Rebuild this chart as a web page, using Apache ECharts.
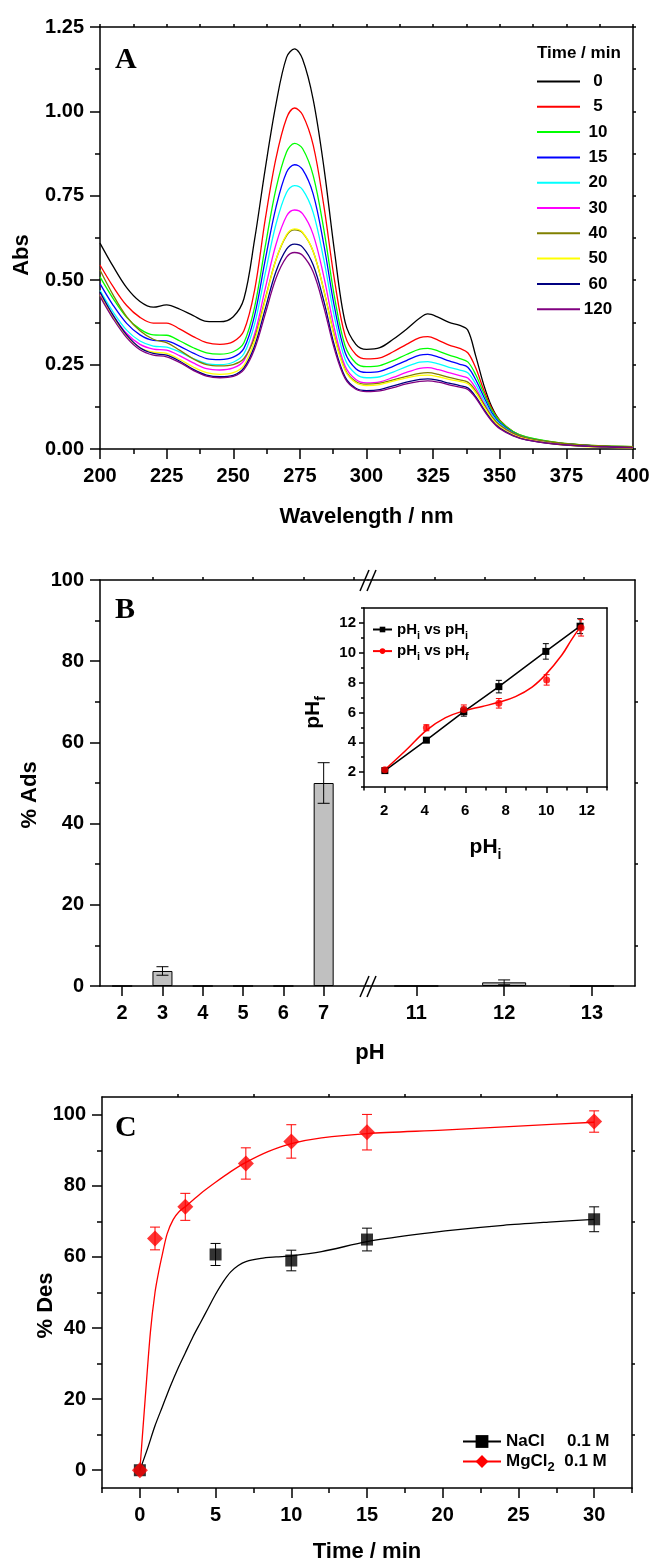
<!DOCTYPE html>
<html><head><meta charset="utf-8">
<script src="https://cdn.jsdelivr.net/npm/echarts@6/dist/echarts.min.js"></script>
<style>html,body{margin:0;padding:0;background:#fff}#c{width:649px;height:1561px}</style>
</head><body><div id="c"></div><script>
// ---------- Panel A : UV-Vis spectra ----------
const wavelength = [200,205,210,215,220,225,230,235,240,245,250,254,258,262,266,270,273,276,280,284,288,292,296,300,305,310,315,320,323,327,331,335,338,341,344,347,350,355,360,370,380,390,400];
const timeNames = ['0','5','10','15','20','30','40','50','60','120'];
const timeColors = ['#000000','#ff0000','#00ff00','#0000ff','#00ffff','#ff00ff','#808000','#ffff00','#000080','#800080'];
const abs0   = [0.610,0.540,0.478,0.437,0.420,0.427,0.414,0.395,0.378,0.377,0.392,0.445,0.620,0.830,1.020,1.160,1.185,1.155,1.035,0.835,0.585,0.375,0.310,0.295,0.300,0.325,0.355,0.388,0.400,0.390,0.375,0.366,0.352,0.275,0.190,0.125,0.085,0.050,0.033,0.018,0.011,0.007,0.005];
const abs5   = [0.545,0.480,0.425,0.390,0.373,0.373,0.355,0.333,0.315,0.310,0.318,0.350,0.470,0.680,0.860,0.980,1.010,0.990,0.900,0.720,0.500,0.335,0.280,0.267,0.270,0.288,0.310,0.330,0.333,0.322,0.308,0.298,0.285,0.240,0.175,0.120,0.085,0.052,0.035,0.020,0.012,0.008,0.006];
const abs10  = [0.510,0.445,0.390,0.355,0.338,0.337,0.320,0.300,0.285,0.281,0.288,0.315,0.420,0.600,0.770,0.880,0.905,0.890,0.810,0.650,0.450,0.305,0.255,0.244,0.247,0.262,0.280,0.296,0.298,0.290,0.278,0.268,0.258,0.220,0.165,0.115,0.083,0.052,0.036,0.021,0.013,0.009,0.007];
const abs15  = [0.490,0.425,0.372,0.338,0.322,0.320,0.304,0.284,0.268,0.265,0.272,0.298,0.395,0.560,0.715,0.820,0.842,0.828,0.755,0.605,0.420,0.285,0.238,0.227,0.230,0.245,0.262,0.278,0.280,0.272,0.261,0.251,0.242,0.205,0.155,0.108,0.078,0.049,0.033,0.019,0.012,0.008,0.006];
const abs20  = [0.470,0.405,0.352,0.320,0.305,0.302,0.287,0.268,0.253,0.250,0.257,0.282,0.370,0.520,0.665,0.760,0.780,0.768,0.700,0.560,0.390,0.265,0.222,0.211,0.214,0.228,0.244,0.257,0.259,0.252,0.242,0.234,0.226,0.192,0.145,0.102,0.074,0.047,0.032,0.018,0.011,0.007,0.005];
const abs30  = [0.460,0.395,0.342,0.310,0.296,0.293,0.276,0.255,0.238,0.234,0.240,0.262,0.340,0.475,0.605,0.690,0.708,0.697,0.635,0.510,0.355,0.245,0.206,0.196,0.199,0.212,0.227,0.239,0.241,0.235,0.226,0.217,0.210,0.180,0.137,0.097,0.070,0.045,0.031,0.017,0.010,0.007,0.005];
const abs40  = [0.530,0.455,0.392,0.350,0.325,0.315,0.292,0.267,0.250,0.246,0.250,0.268,0.330,0.445,0.560,0.632,0.649,0.640,0.585,0.470,0.335,0.235,0.200,0.192,0.195,0.205,0.215,0.224,0.226,0.221,0.212,0.205,0.198,0.172,0.133,0.096,0.071,0.047,0.033,0.020,0.013,0.009,0.007];
const abs50  = [0.455,0.390,0.335,0.300,0.287,0.283,0.265,0.243,0.226,0.221,0.226,0.248,0.320,0.440,0.560,0.635,0.652,0.642,0.585,0.470,0.330,0.232,0.196,0.188,0.191,0.201,0.211,0.218,0.219,0.214,0.206,0.200,0.193,0.166,0.127,0.091,0.066,0.042,0.029,0.015,0.008,0.005,0.003];
const abs60  = [0.465,0.395,0.338,0.300,0.283,0.278,0.260,0.236,0.219,0.214,0.218,0.240,0.305,0.415,0.525,0.592,0.607,0.598,0.545,0.438,0.305,0.213,0.180,0.173,0.176,0.187,0.198,0.206,0.208,0.203,0.195,0.188,0.181,0.155,0.118,0.085,0.062,0.040,0.027,0.015,0.009,0.006,0.004];
const abs120 = [0.452,0.385,0.330,0.294,0.278,0.273,0.256,0.233,0.216,0.211,0.215,0.235,0.296,0.400,0.505,0.568,0.582,0.574,0.524,0.420,0.295,0.208,0.177,0.170,0.172,0.182,0.193,0.200,0.202,0.198,0.190,0.183,0.176,0.151,0.115,0.083,0.060,0.039,0.027,0.015,0.009,0.006,0.004];
const absSets = [abs0,abs5,abs10,abs15,abs20,abs30,abs40,abs50,abs60,abs120];

// ---------- Panel B : adsorption vs pH ----------
const phLow = [2,3,4,5,6,7];
const adsLow = [0,3.7,0,0,0,50];
const adsLowErr = [0,1.05,0,0,0,5];
const phHigh = [11,12,13];
const adsHigh = [0,0.9,0];
const adsHighErr = [0,0.6,0];
// inset
const pHiSquare = [2.03,4.08,5.93,7.66,9.98,11.67];
const pHiSquareY = [2.10,4.14,6.05,7.73,10.09,11.78];
const pHiSquareErr = [0.10,0.12,0.30,0.42,0.52,0.50];
const pHiCircle = [2.03,4.08,5.93,7.66,10.02,11.72];
const pHfCircleY = [2.16,4.97,6.20,6.61,8.18,11.67];
const pHfCircleErr = [0.12,0.20,0.30,0.32,0.35,0.55];
const pHfFitX = [2.03,3.07,4.08,5.03,5.93,6.84,7.66,8.48,9.30,9.98,10.77,11.26,11.67];
const pHfFitY = [2.16,3.46,4.80,5.65,6.10,6.40,6.68,7.06,7.70,8.55,9.85,10.90,11.70];

// ---------- Panel C : desorption kinetics ----------
const tNaCl = [0,5,10,15,30];
const desNaCl = [0,60.7,59.0,64.9,70.6];
const desNaClErr = [0,3.1,2.9,3.2,3.5];
const tMgCl2 = [0,1,3,7,10,15,30];
const desMgCl2 = [0,65.2,74.1,86.3,92.5,95.1,98.1];
const desMgCl2Err = [0,3.2,3.8,4.4,4.7,5.0,3.0];
const fitNaClT = [0,0.5,1,1.5,2,2.5,3,3.5,4,4.5,5,5.5,6,6.5,7,8,9,10,12,15,18,21,24,27,30];
const fitNaClY = [0,6,12.5,18,23.5,28.5,33,37.5,41.5,45.5,49.5,53,55.8,57.6,58.7,59.6,60,60.3,61.5,64.3,66.2,67.7,68.9,69.8,70.6];
const fitMgT = [0,0.35,0.7,1.0,1.25,1.5,1.8,2.2,2.6,3.1,4,5,6,7,8.5,10,12,15,20,25,30];
const fitMgY = [0,20,39,50,56,61,66.5,70.5,72.8,74.5,77.8,81,84,86.6,89.7,91.9,93.5,94.7,95.7,96.8,97.9];

// ---------- helpers ----------
const FONT = "'Liberation Sans',Arial,sans-serif";
const SERIF = "'Liberation Serif','Times New Roman',serif";
const AX = {color:'#000', width:1.5};
const TICKFS = 20, TITLEFS = 22;
function lbl(size, extra){ return Object.assign({color:'#000', fontFamily:FONT, fontWeight:'bold', fontSize:size}, extra||{}); }
function zip(a,b){ return a.map((v,i)=>[v,b[i]]); }
function zip3(a,b,c){ return a.map((v,i)=>[v,b[i],c[i]]); }
function range(a,b,s){ const r=[]; for(let v=a; v<=b+1e-9; v+=s) r.push(+v.toFixed(4)); return r; }
function subRich(big, small){
  return {
    a:{fontFamily:FONT,fontWeight:'bold',fontSize:big,color:'#000',lineHeight:big+8,verticalAlign:'middle'},
    s:{fontFamily:FONT,fontWeight:'bold',fontSize:small,color:'#000',lineHeight:small,verticalAlign:'bottom'}
  };
}
function errBars(name, xi, yi, data, color, cap, lw){
  return {type:'custom', name:name, xAxisIndex:xi, yAxisIndex:yi, data:data, encode:{x:0,y:1}, z:3, silent:true,
    renderItem:function(params, api){
      const x=api.value(0), y=api.value(1), e=api.value(2);
      if(!e) return {type:'group', children:[]};
      const p1=api.coord([x,y+e]), p2=api.coord([x,y-e]), h=cap/2;
      const st={stroke:color, lineWidth:lw};
      return {type:'group', children:[
        {type:'line', shape:{x1:p1[0],y1:p1[1],x2:p2[0],y2:p2[1]}, style:st},
        {type:'line', shape:{x1:p1[0]-h,y1:p1[1],x2:p1[0]+h,y2:p1[1]}, style:st},
        {type:'line', shape:{x1:p2[0]-h,y1:p2[1],x2:p2[0]+h,y2:p2[1]}, style:st}]};
    }};
}
function plainAxis(o){
  return Object.assign({type:'value', axisLine:{show:true,onZero:false,lineStyle:AX}, splitLine:{show:false},
    axisLabel:{show:false}, axisTick:{show:false}, nameMoveOverlap:false}, o);
}

const chart = echarts.init(document.getElementById('c'), null, {renderer:'canvas', width:649, height:1561});

const grids = [
  {left:100, top:27, width:533, height:422},     // A
  {left:100, top:580, width:268, height:406},    // B left segment
  {left:368, top:580, width:267, height:406},    // B right segment
  {left:364, top:608, width:243, height:179},    // B inset
  {left:102, top:1097, width:530, height:391}    // C
].map(g=>Object.assign({containLabel:false, outerBoundsMode:'none'}, g));

const xAxes = [
  // 0: A bottom
  plainAxis({gridIndex:0, min:200, max:400, interval:25, position:'bottom',
    axisTick:{show:true,length:10,lineStyle:AX}, minorTick:{show:true,splitNumber:2,length:5,lineStyle:AX},
    axisLabel:lbl(TICKFS,{show:true,margin:17}),
    name:'Wavelength / nm', nameLocation:'middle', nameGap:57, nameTextStyle:lbl(TITLEFS)}),
  // 1: A top
  plainAxis({gridIndex:0, min:200, max:400, interval:12.5, position:'top', axisTick:{show:true,length:3,lineStyle:AX}}),
  // 2: B left bottom
  plainAxis({gridIndex:1, min:1.45, max:8.1, position:'bottom',
    axisTick:{show:true,length:10,lineStyle:AX,customValues:phLow},
    axisLabel:lbl(TICKFS,{show:true,margin:17,customValues:phLow})}),
  // 3: B left top
  plainAxis({gridIndex:1, min:1.45, max:8.1, position:'top', axisTick:{show:true,length:3,lineStyle:AX,customValues:[2.75,4,5.25,6.5,7.75]}}),
  // 4: B right bottom
  plainAxis({gridIndex:2, min:10.45, max:13.49, position:'bottom',
    axisTick:{show:true,length:10,lineStyle:AX,customValues:phHigh},
    axisLabel:lbl(TICKFS,{show:true,margin:17,customValues:phHigh})}),
  // 5: B right top
  plainAxis({gridIndex:2, min:10.45, max:13.49, position:'top', axisTick:{show:true,length:3,lineStyle:AX,customValues:[11.21,11.78,12.35,12.91]}}),
  // 6: inset bottom
  plainAxis({gridIndex:3, min:1, max:13, position:'bottom',
    axisTick:{show:true,length:6,lineStyle:AX,customValues:range(2,12,2)},
    axisLabel:lbl(15,{show:true,margin:16,customValues:range(2,12,2)}),
    name:'{a|pH}{s|i}', nameLocation:'middle', nameGap:46, nameTextStyle:{rich:subRich(21,14)}}),
  // 7: inset bottom minor
  plainAxis({gridIndex:3, min:1, max:13, position:'bottom', axisLine:{show:false,onZero:false},
    axisTick:{show:true,length:3.5,lineStyle:AX,customValues:range(1,13,2)}}),
  // 8: inset top
  plainAxis({gridIndex:3, min:1, max:13, position:'top'}),
  // 9: C bottom
  plainAxis({gridIndex:4, min:-2.5, max:32.5, position:'bottom',
    axisTick:{show:true,length:10,lineStyle:AX,customValues:range(0,30,5)},
    axisLabel:lbl(TICKFS,{show:true,margin:17,customValues:range(0,30,5)}),
    name:'Time / min', nameLocation:'middle', nameGap:53, nameTextStyle:lbl(TITLEFS)}),
  // 10: C bottom minor
  plainAxis({gridIndex:4, min:-2.5, max:32.5, position:'bottom', axisLine:{show:false,onZero:false},
    axisTick:{show:true,length:5,lineStyle:AX,customValues:range(-2.5,32.5,5)}}),
  // 11: C top
  plainAxis({gridIndex:4, min:-2.5, max:32.5, position:'top', axisTick:{show:true,length:3,lineStyle:AX,customValues:range(2.5,32.5,5)}})
];

const yAxes = [
  // 0: A left
  plainAxis({gridIndex:0, min:0, max:1.25, interval:0.25, position:'left',
    axisTick:{show:true,length:10,lineStyle:AX}, minorTick:{show:true,splitNumber:2,length:5,lineStyle:AX},
    axisLabel:lbl(TICKFS,{show:true,margin:16,formatter:v=>v.toFixed(2)}),
    name:'Abs', nameLocation:'middle', nameGap:67, nameTextStyle:lbl(TITLEFS,{padding:[0,34,0,0]})}),
  // 1: A right
  plainAxis({gridIndex:0, min:0, max:1.25, interval:0.125, position:'right', axisTick:{show:true,length:3,lineStyle:AX}}),
  // 2: B left
  plainAxis({gridIndex:1, min:0, max:100, interval:20, position:'left',
    axisTick:{show:true,length:10,lineStyle:AX}, minorTick:{show:true,splitNumber:2,length:5,lineStyle:AX},
    axisLabel:lbl(TICKFS,{show:true,margin:16}),
    name:'% Ads', nameLocation:'middle', nameGap:59, nameTextStyle:lbl(TITLEFS,{padding:[0,24,0,0]})}),
  // 3: B right
  plainAxis({gridIndex:2, min:0, max:100, position:'right', axisTick:{show:true,length:3,lineStyle:AX,customValues:[10,30,50,70,90]}}),
  // 4: inset left
  plainAxis({gridIndex:3, min:1, max:13, position:'left',
    axisTick:{show:true,length:5,lineStyle:AX,customValues:range(2,12,2)},
    axisLabel:lbl(15,{show:true,margin:8,customValues:range(2,12,2)}),
    name:'{a|pH}{s|f}', nameLocation:'middle', nameGap:36, nameTextStyle:{rich:subRich(21,14),padding:[0,30,0,0]}}),
  // 5: inset left minor
  plainAxis({gridIndex:3, min:1, max:13, position:'left', axisLine:{show:false,onZero:false},
    axisTick:{show:true,length:3,lineStyle:AX,customValues:range(1,13,2)}}),
  // 6: inset right
  plainAxis({gridIndex:3, min:1, max:13, position:'right'}),
  // 7: C left
  plainAxis({gridIndex:4, min:-5, max:105, position:'left',
    axisTick:{show:true,length:10,lineStyle:AX,customValues:range(0,100,20)},
    axisLabel:lbl(TICKFS,{show:true,margin:16,customValues:range(0,100,20)}),
    name:'% Des', nameLocation:'middle', nameGap:45, nameTextStyle:lbl(TITLEFS,{padding:[0,26,0,0]})}),
  // 8: C left minor
  plainAxis({gridIndex:4, min:-5, max:105, position:'left', axisLine:{show:false,onZero:false},
    axisTick:{show:true,length:5,lineStyle:AX,customValues:range(10,90,20)}}),
  // 9: C right
  plainAxis({gridIndex:4, min:-5, max:105, position:'right', axisTick:{show:true,length:3,lineStyle:AX,customValues:range(10,90,20)}})
];

const series = [];
// Panel A spectra
absSets.forEach((arr,i)=>{
  series.push({type:'line', name:timeNames[i], xAxisIndex:0, yAxisIndex:0, data:zip(wavelength,arr),
    symbol:'none', smooth:0.35, lineStyle:{color:timeColors[i], width:1.3}, itemStyle:{color:timeColors[i]}, z:2});
});
// Panel B bars
series.push({type:'bar', name:'adsLow', xAxisIndex:2, yAxisIndex:2, data:zip(phLow,adsLow), barWidth:20,
  itemStyle:{color:'#c0c0c0', borderColor:'#000', borderWidth:1}});
series.push({type:'bar', name:'adsHigh', xAxisIndex:4, yAxisIndex:3, data:zip(phHigh,adsHigh), barWidth:44,
  itemStyle:{color:'#c0c0c0', borderColor:'#000', borderWidth:1}});
series.push(errBars('adsLowErr', 2, 2, zip3(phLow,adsLow,adsLowErr), '#000', 12, 1));
series.push(errBars('adsHighErr', 4, 3, zip3(phHigh,adsHigh,adsHighErr), '#000', 12, 1));
// Inset
series.push({type:'line', name:'pHi vs pHi', xAxisIndex:6, yAxisIndex:4, data:zip(pHiSquare,pHiSquareY),
  symbol:'rect', symbolSize:7, lineStyle:{color:'#000',width:1.5}, itemStyle:{color:'#000'}, z:4});
series.push(errBars('pHiErr', 6, 4, zip3(pHiSquare,pHiSquareY,pHiSquareErr), '#000', 6, 1));
series.push({type:'line', name:'pHi vs pHf', xAxisIndex:6, yAxisIndex:4, data:zip(pHfFitX,pHfFitY),
  symbol:'circle', symbolSize:7, showSymbol:false, smooth:0.4, lineStyle:{color:'#ff0000',width:1.5}, itemStyle:{color:'#ff0000'}, z:4});
series.push({type:'scatter', name:'pHfPts', xAxisIndex:6, yAxisIndex:4, data:zip(pHiCircle,pHfCircleY),
  symbol:'circle', symbolSize:7, itemStyle:{color:'#ff0000'}, z:5});
series.push(errBars('pHfErr', 6, 4, zip3(pHiCircle,pHfCircleY,pHfCircleErr), '#ff0000', 6, 1));
// Panel C
series.push({type:'line', name:'NaCl', xAxisIndex:9, yAxisIndex:7, data:zip(fitNaClT,fitNaClY),
  symbol:'rect', symbolSize:13, showSymbol:false, smooth:0.3, lineStyle:{color:'#000',width:1.3}, itemStyle:{color:'#000'}, z:2});
series.push({type:'line', name:'MgCl2', xAxisIndex:9, yAxisIndex:7, data:zip(fitMgT,fitMgY),
  symbol:'diamond', symbolSize:16, showSymbol:false, smooth:0.3, lineStyle:{color:'#ff0000',width:1.3}, itemStyle:{color:'#ff0000'}, z:2});
series.push(errBars('naclErr', 9, 7, zip3(tNaCl,desNaCl,desNaClErr), '#000', 10, 1));
series.push(errBars('mgErr', 9, 7, zip3(tMgCl2,desMgCl2,desMgCl2Err), '#ff0000', 10, 1));
series.push({type:'scatter', name:'naclPts', xAxisIndex:9, yAxisIndex:7, data:zip(tNaCl,desNaCl),
  symbol:'rect', symbolSize:12, itemStyle:{color:'#000'}, z:5});
series.push({type:'scatter', name:'mgPts', xAxisIndex:9, yAxisIndex:7, data:zip(tMgCl2,desMgCl2),
  symbol:'diamond', symbolSize:16, itemStyle:{color:'#ff0000'}, z:6});

const insetRich = subRich(15,11);
const cRich = {
  n:{fontFamily:FONT,fontWeight:'bold',fontSize:17,color:'#000',width:61,lineHeight:24,verticalAlign:'middle'},
  m:{fontFamily:FONT,fontWeight:'bold',fontSize:17,color:'#000',lineHeight:24,verticalAlign:'middle'},
  v:{fontFamily:FONT,fontWeight:'bold',fontSize:17,color:'#000',lineHeight:24,verticalAlign:'middle'},
  s:{fontFamily:FONT,fontWeight:'bold',fontSize:13,color:'#000',lineHeight:13,verticalAlign:'bottom'}
};

const option = {
  animation:false,
  backgroundColor:'#fff',
  grid:grids, xAxis:xAxes, yAxis:yAxes, series:series,
  title:[
    {text:'A', left:115, top:45, padding:0, textStyle:{fontFamily:SERIF,fontWeight:'bold',fontSize:30,color:'#000'}},
    {text:'B', left:115, top:595, padding:0, textStyle:{fontFamily:SERIF,fontWeight:'bold',fontSize:30,color:'#000'}},
    {text:'C', left:115, top:1113, padding:0, textStyle:{fontFamily:SERIF,fontWeight:'bold',fontSize:30,color:'#000'}},
    {text:'Time / min', left:537, top:45, padding:0, textStyle:lbl(17)},
    {text:'pH', left:370, textAlign:'center', top:1042, padding:0, textStyle:lbl(TITLEFS)}
  ],
  legend:[
    {data:timeNames, orient:'vertical', left:537, top:73, padding:0, itemWidth:43, itemHeight:2, itemGap:8.3,
      icon:'rect', selectedMode:false, formatter:n=>'{c|'+n+'}',
      textStyle:{rich:{c:{width:26,align:'center',fontFamily:FONT,fontWeight:'bold',fontSize:17,color:'#000'}}}},
    {data:['pHi vs pHi','pHi vs pHf'], orient:'vertical', left:372, top:622, padding:0, itemWidth:19, itemHeight:7, itemGap:2.6,
      selectedMode:false,
      formatter:n=> n==='pHi vs pHi' ? '{a|pH}{s|i}{a| vs pH}{s|i}' : '{a|pH}{s|i}{a| vs pH}{s|f}',
      textStyle:{rich:insetRich}},
    {data:['NaCl','MgCl2'], orient:'vertical', left:462, top:1433, padding:0, itemWidth:38, itemHeight:16, itemGap:3,
      selectedMode:false,
      formatter:n=> n==='NaCl' ? '{n|NaCl}{v|0.1 M}' : '{m|MgCl}{s|2}{v|  0.1 M}',
      textStyle:{rich:cRich}}
  ],
  graphic:[
    {type:'line', shape:{x1:360,y1:997,x2:369,y2:976}, style:{stroke:'#000',lineWidth:1.5}, z:100},
    {type:'line', shape:{x1:367,y1:997,x2:376,y2:976}, style:{stroke:'#000',lineWidth:1.5}, z:100},
    {type:'line', shape:{x1:360,y1:591,x2:369,y2:570}, style:{stroke:'#000',lineWidth:1.5}, z:100},
    {type:'line', shape:{x1:367,y1:591,x2:376,y2:570}, style:{stroke:'#000',lineWidth:1.5}, z:100}
  ]
};
chart.setOption(option);
</script></body></html>
